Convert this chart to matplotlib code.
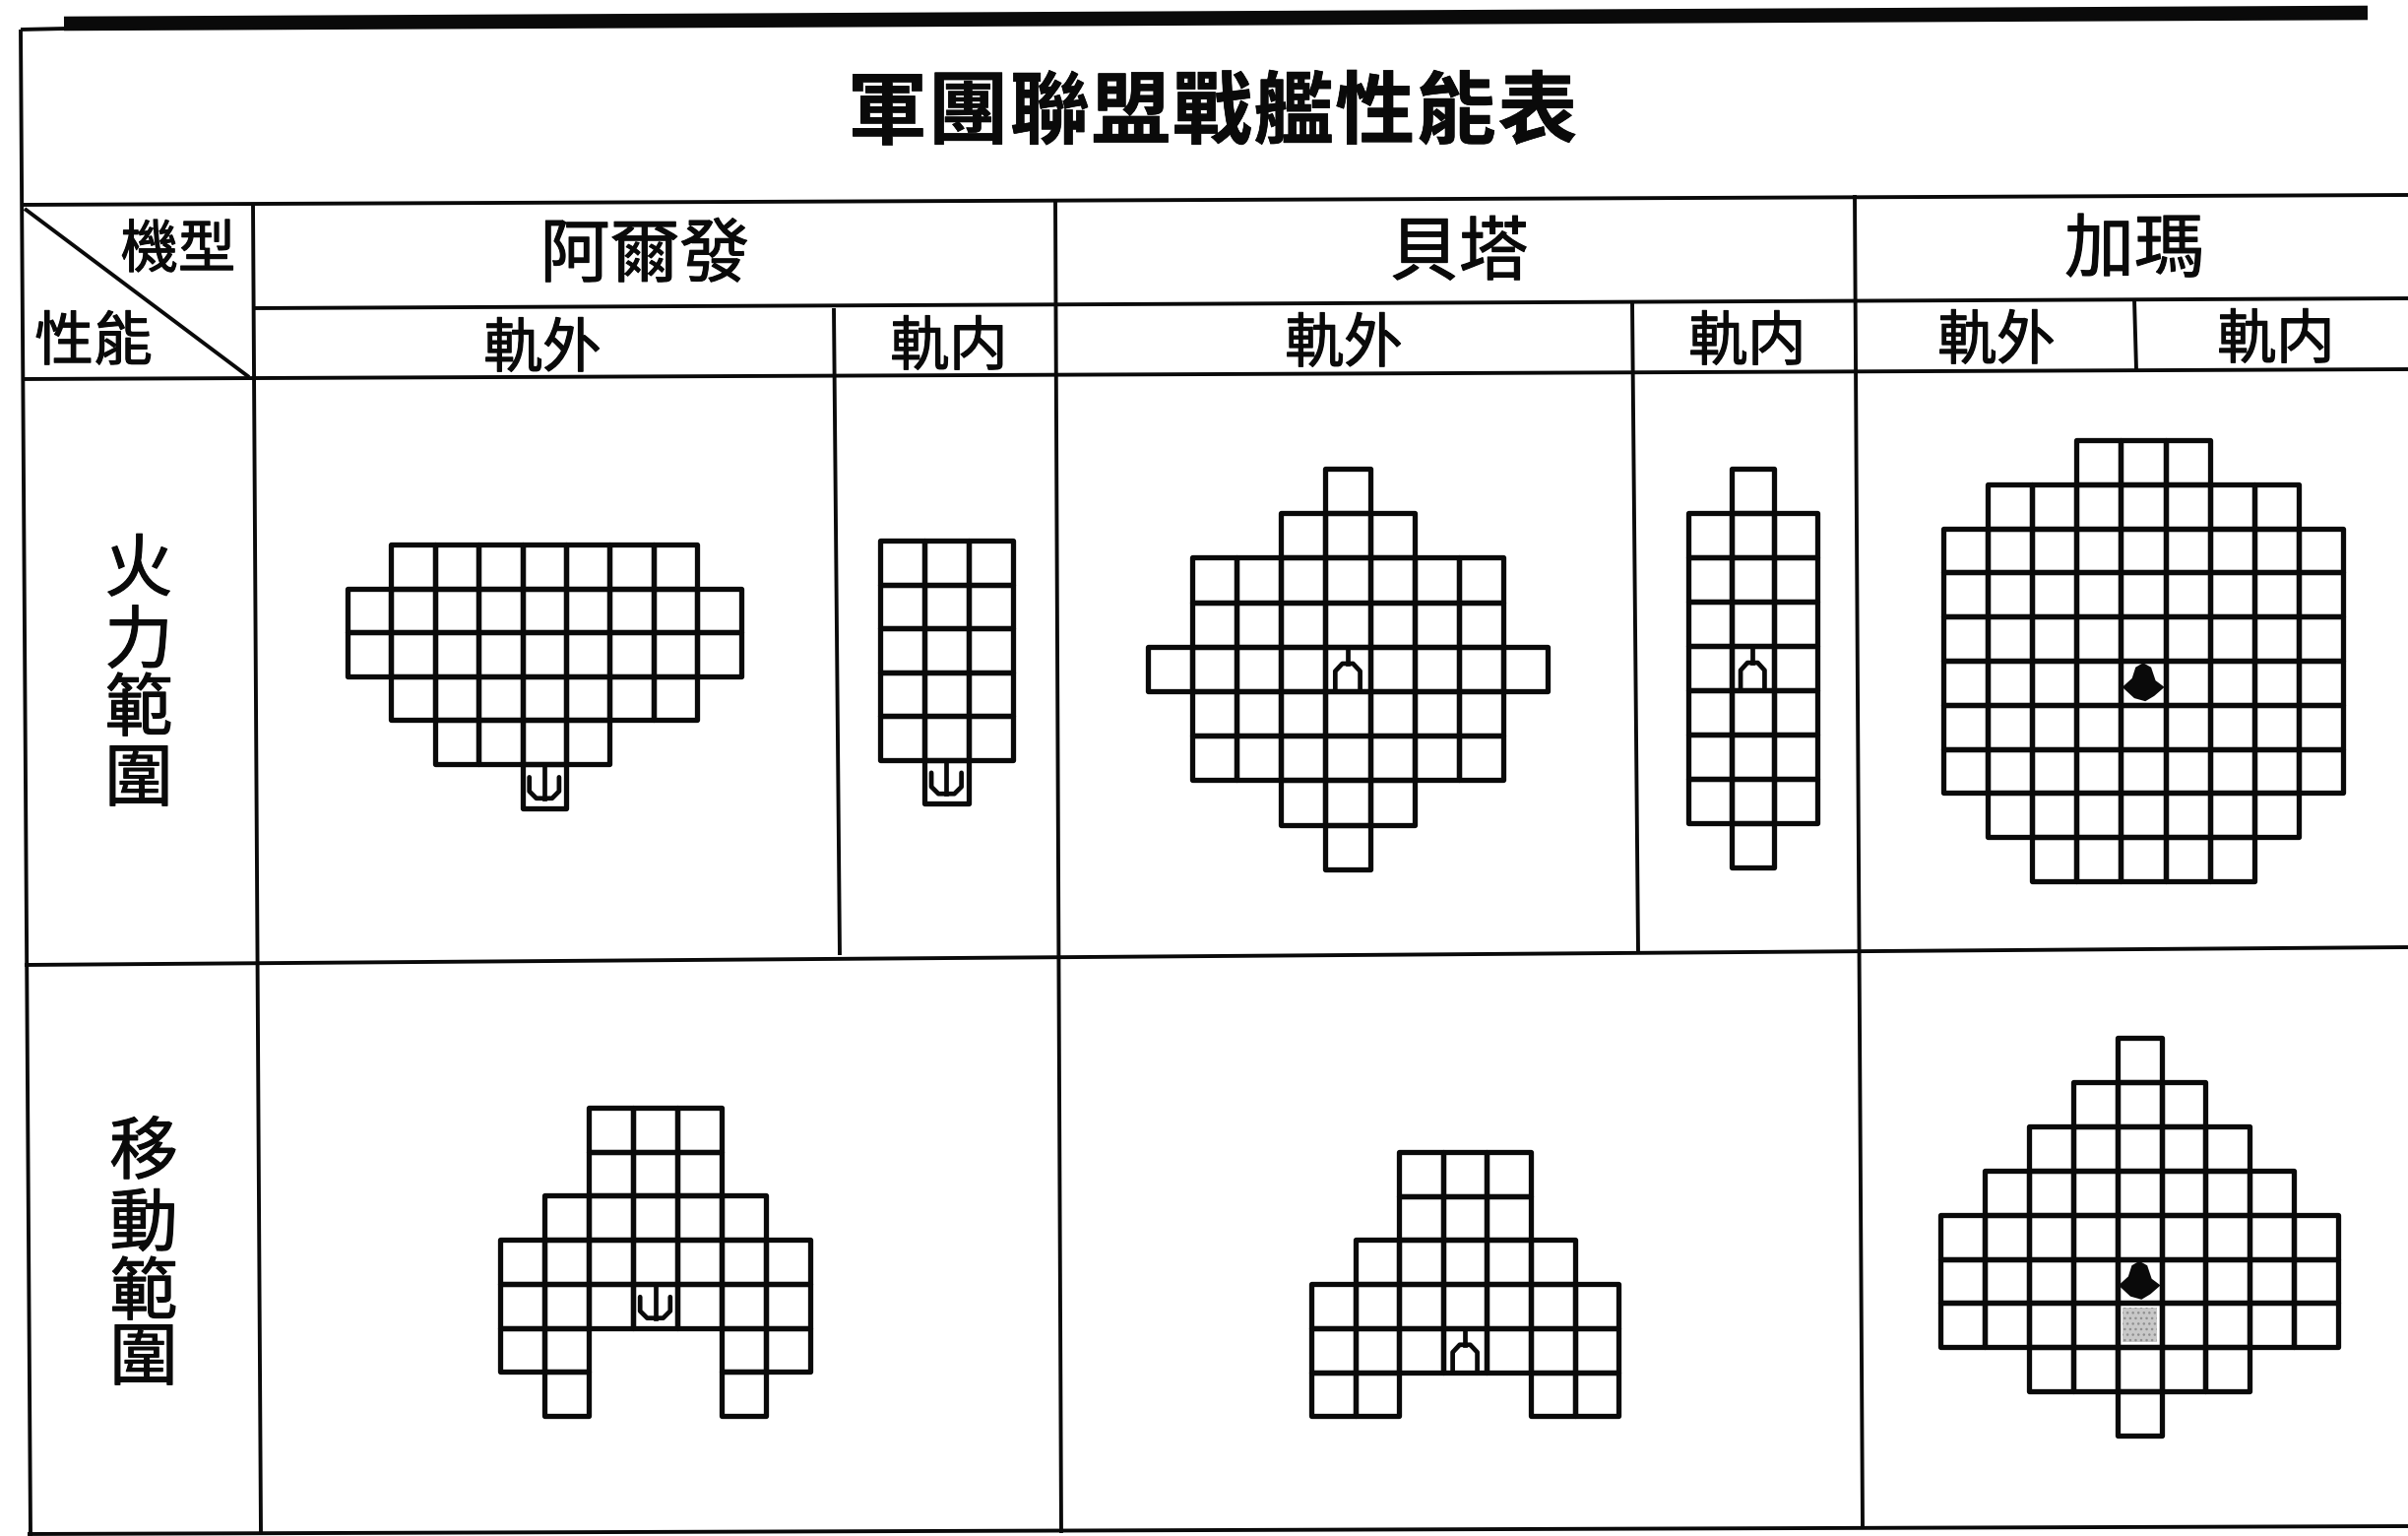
import matplotlib
matplotlib.use("Agg")
import matplotlib.pyplot as plt
import matplotlib.patheffects as pe
from matplotlib.patches import Rectangle, Polygon

plt.rcParams['font.family'] = ['Noto Sans CJK TC', 'DejaVu Sans']

title = "軍團聯盟戰艦性能表"
corner_top = "機型"
corner_bottom = "性能"
ship_names = ["阿爾發", "貝塔", "加瑪"]
orbit_labels = ["軌外", "軌内", "軌外", "軌内", "軌外", "軌内"]
row_labels = ["火力範圍", "移動範圍"]

# cell masks, one string per row of the range grid
alpha_fire_out = ["-XXXXXXX-",
                  "XXXXXXXXX",
                  "XXXXXXXXX",
                  "-XXXXXXX-",
                  "--XXXX---",
                  "----X----"]
alpha_fire_in = ["XXX", "XXX", "XXX", "XXX", "XXX", "-X-"]
beta_fire_out = ["----X----",
                 "---XXX---",
                 "-XXXXXXX-",
                 "-XXXXXXX-",
                 "XXXXXXXXX",
                 "-XXXXXXX-",
                 "-XXXXXXX-",
                 "---XXX---",
                 "----X----"]
beta_fire_in = ["-X-", "XXX", "XXX", "XXX", "XXX", "XXX", "XXX", "XXX", "-X-"]
gamma_fire = ["---XXX---",
              "-XXXXXXX-",
              "XXXXXXXXX",
              "XXXXXXXXX",
              "XXXXXXXXX",
              "XXXXXXXXX",
              "XXXXXXXXX",
              "XXXXXXXXX",
              "-XXXXXXX-",
              "--XXXXX--"]
alpha_move = ["--XXX--",
              "--XXX--",
              "-XXXXX-",
              "XXXXXXX",
              "XXXXXXX",
              "XX---XX",
              "-X---X-"]
beta_move = ["--XXX--",
             "--XXX--",
             "-XXXXX-",
             "XXXXXXX",
             "XXXXXXX",
             "XX---XX"]
gamma_move = ["----X----",
              "---XXX---",
              "--XXXXX--",
              "-XXXXXXX-",
              "XXXXXXXXX",
              "XXXXXXXXX",
              "XXXXXXXXX",
              "--XXXXX--",
              "----X----"]

# mask, ship type, ship row, ship col, left, top, pitch x, pitch y
grids = [
    (alpha_fire_out, "a", 5, 4, 353, 553, 44.4, 44.6),
    (alpha_fire_in, "a", 5, 1, 894, 549, 44.9, 44.5),
    (beta_fire_out, "b", 4, 4, 1166, 476, 45.1, 45.2),
    (beta_fire_in, "b", 4, 1, 1715, 476, 43.5, 45.0),
    (gamma_fire, "g", 5, 4, 1974, 447, 45.1, 44.8),
    (alpha_move, "a", 4, 3, 508, 1125, 45.0, 44.7),
    (beta_move, "b", 4, 3, 1332, 1170, 44.6, 44.7),
    (gamma_move, "g", 5, 4, 1971, 1054, 44.9, 44.9),
]

INK = "#0a0a0a"


def label(ax, x, y, s, size, stroke=0.8, **kw):
    # the scan has heavier strokes than the regular weight
    t = ax.text(x, y, s, fontsize=size, ha="center", va="center", color=INK, **kw)
    t.set_path_effects([pe.withStroke(linewidth=stroke, foreground=INK)])
    return t


def draw_ship(ax, kind, x, y, w, h):
    lw = 3.4
    if kind == "a":
        ax.plot([x + .16 * w, x + .16 * w, x + .32 * w, x + .68 * w, x + .84 * w, x + .84 * w],
                [y + .3 * h, y + .62 * h, y + .78 * h, y + .78 * h, y + .62 * h, y + .3 * h],
                color=INK, lw=lw, solid_capstyle="round", zorder=4)
        ax.plot([x + .5 * w, x + .5 * w], [y + .05 * h, y + .78 * h], color=INK, lw=lw, zorder=4)
    elif kind == "b":
        ax.plot([x + .5 * w, x + .5 * w], [y + .03 * h, y + .38 * h], color=INK, lw=lw, zorder=4)
        ax.plot([x + .22 * w, x + .22 * w, x + .38 * w, x + .62 * w, x + .78 * w, x + .78 * w],
                [y + .97 * h, y + .55 * h, y + .38 * h, y + .38 * h, y + .55 * h, y + .97 * h],
                color=INK, lw=lw, zorder=4)
    else:
        ax.add_patch(Polygon([(x + .5 * w, y + .05 * h), (x + .68 * w, y + .15 * h),
                              (x + .78 * w, y + .45 * h), (x + .98 * w, y + .6 * h),
                              (x + .75 * w, y + .8 * h), (x + .55 * w, y + .92 * h),
                              (x + .3 * w, y + .85 * h), (x + .03 * w, y + .6 * h),
                              (x + .25 * w, y + .4 * h), (x + .33 * w, y + .15 * h)],
                             closed=True, color=INK, lw=0, zorder=4))


def draw_grid(ax, mask, kind, ship_row, ship_col, left, top, px, py):
    for r, row in enumerate(mask):
        for c, cell in enumerate(row):
            if cell == "X":
                ax.add_patch(Rectangle((left + c * px, top + r * py), px, py, fill=False,
                                       ec=INK, lw=3.8, joinstyle="round", zorder=3))
    draw_ship(ax, kind, left + ship_col * px, top + ship_row * py, px, py)


fig = plt.figure(figsize=(24.46, 15.60), dpi=100)
ax = fig.add_axes([0, 0, 1, 1])
ax.set_xlim(0, 2446)
ax.set_ylim(1560, 0)
ax.axis("off")

# table rules: (x0, y0, x1, y1)
table_lines = [
    (65, 24, 2405, 13),
    (21, 30, 66, 29),
    (21, 208, 2446, 198),
    (257, 313, 2446, 303),
    (22, 385, 2446, 375),
    (25, 980, 2446, 962),
    (28, 1558, 2446, 1550),
    (21, 30, 31, 1560),
    (257, 208, 265, 1557),
    (1072, 205, 1078, 1557),
    (1884, 198, 1892, 1552),
    (847, 313, 853, 970),
    (1658, 307, 1664, 967),
    (2168, 304, 2170, 375),
    (25, 212, 253, 383),
]
for i, (x0, y0, x1, y1) in enumerate(table_lines):
    ax.plot([x0, x1], [y0, y1], color=INK, lw=10.5 if i == 0 else 2.8,
            solid_capstyle="butt", zorder=2)

for i, ch in enumerate(title):
    label(ax, 901 + i * 82.6, 116, ch, 58, stroke=0.5, fontweight="bold")

label(ax, 181, 255, corner_top, 42)
label(ax, 95, 349, corner_bottom, 43)

for name, x, y in zip(ship_names, [655, 1482, 2168], [260, 258, 255]):
    label(ax, x, y, name, 51)
for name, x, y in zip(orbit_labels, [551, 964, 1365, 1775, 2028, 2312],
                      [356, 354, 351, 349, 348, 347]):
    label(ax, x, y, name, 43)

for name, x, ys in zip(row_labels, [141, 146], [[580, 653, 722, 793], [1172, 1245, 1315, 1381]]):
    for ch, y in zip(name, ys):
        label(ax, x, y, ch, 50)

for mask, kind, ship_row, ship_col, left, top, px, py in grids:
    draw_grid(ax, mask, kind, ship_row, ship_col, left, top, px, py)

# stippled square under the gamma ship in the movement grid
ax.add_patch(Rectangle((1971 + 4 * 44.9 + 5, 1054 + 6 * 44.9 + 5), 44.9 - 10, 44.9 - 10,
                       fc="#c8c8c8", ec="#8f8f8f", lw=0, hatch="...", zorder=2))

fig.savefig("out.png", dpi=100, facecolor="white")
